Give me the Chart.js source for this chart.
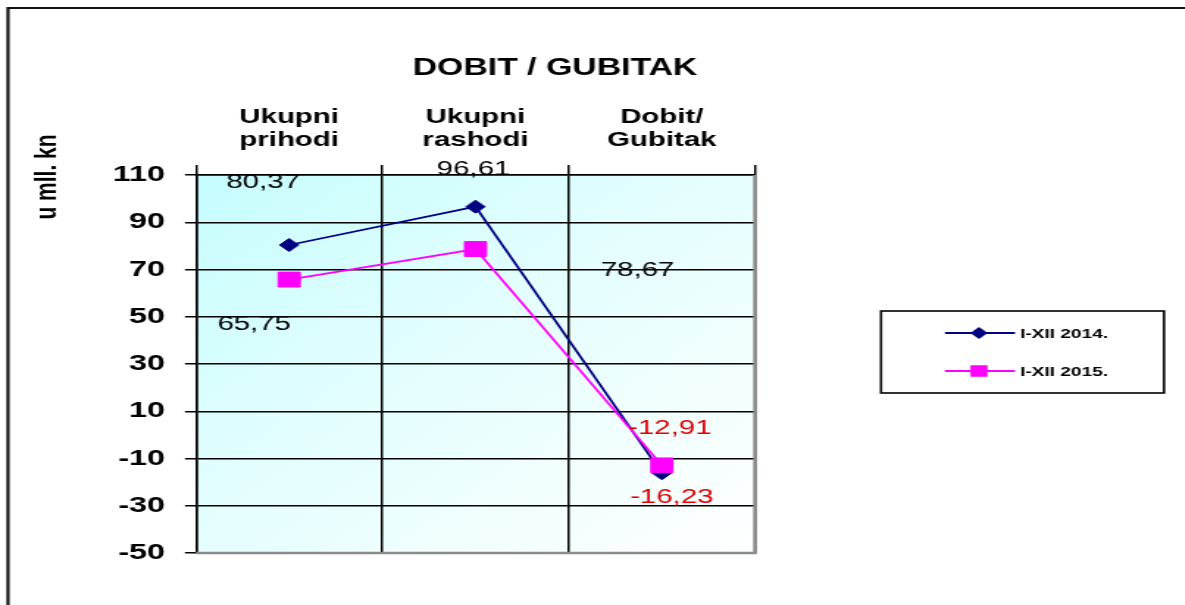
<!DOCTYPE html>
<html>
<head>
<meta charset="utf-8">
<script src="https://cdn.jsdelivr.net/npm/chart.js@4/dist/chart.umd.min.js"></script>
<style>
  body { margin: 0; background: #fff; overflow: hidden; }
  #wrap { transform-origin: 0 0; }
</style>
</head>
<body>
<div id="wrap"><canvas id="c"></canvas></div>
<script>
const categories = [["Ukupni", "prihodi"], ["Ukupni", "rashodi"], ["Dobit/", "Gubitak"]];
const series2014 = [80.37, 96.61, -16.23];
const series2015 = [65.75, 78.67, -12.91];
const seriesNames = ["I-XII 2014.", "I-XII 2015."];
const yTicks = { min: -50, max: 110, step: 20 };

// the original picture is stretched sideways, so draw narrow and scale the page
const S = 1.47;
const W = Math.round(1185 / S);
const H = 605;
const FONT = "'Liberation Sans', Arial, sans-serif";

const wrap = document.getElementById("wrap");
wrap.style.width = W + "px";
wrap.style.height = H + "px";
wrap.style.transform = "scaleX(" + S + ")";
const canvas = document.getElementById("c");
canvas.width = W;
canvas.height = H;

const plotLeft = 196 / S, plotRight = 755 / S, plotTop = 175, plotBottom = 553;

// where Excel put the value labels, relative to each point
const labelShift = [
  [[-26, -63], [-2, -37], [10, 24]],
  [[-35, 45], [162, 21], [8, -37]]
];

const fmt = v => v.toFixed(2).replace(".", ",");

const extras = {
  id: "extras",
  beforeDraw(chart) {
    const ctx = chart.ctx;
    const a = chart.chartArea;
    ctx.save();
    const g = ctx.createLinearGradient(a.left, a.top, a.right, a.bottom);
    g.addColorStop(0, "#c6fdfd");
    g.addColorStop(0.45, "#e4fefe");
    g.addColorStop(1, "#ffffff");
    ctx.fillStyle = g;
    ctx.fillRect(a.left, a.top, a.right - a.left, a.bottom - a.top);
    ctx.restore();
  },
  afterDatasetsDraw(chart) {
    const ctx = chart.ctx;
    const a = chart.chartArea;
    ctx.save();
    // grey right and bottom edges of the plot
    ctx.strokeStyle = "#8a8a8a";
    ctx.lineWidth = 2.5;
    ctx.beginPath();
    ctx.moveTo(a.right, a.top);
    ctx.lineTo(a.right, a.bottom);
    ctx.lineTo(a.left, a.bottom);
    ctx.stroke();

    // value labels
    ctx.font = "20px " + FONT;
    ctx.textAlign = "center";
    ctx.textBaseline = "middle";
    chart.data.datasets.forEach((ds, di) => {
      const meta = chart.getDatasetMeta(di);
      meta.data.forEach((pt, i) => {
        const v = ds.data[i];
        const sh = labelShift[ds.idx][i];
        ctx.fillStyle = v < 0 ? "#e00000" : "#000";
        ctx.fillText(fmt(v), pt.x + sh[0] / S, pt.y + sh[1]);
      });
    });

    // title
    ctx.fillStyle = "#000";
    ctx.font = "bold 23px " + FONT;
    ctx.fillText("DOBIT / GUBITAK", 555 / S, 69);

    // y axis title
    ctx.save();
    ctx.translate(48 / S, 177);
    ctx.rotate(-Math.PI / 2);
    ctx.font = "bold 21px " + FONT;
    ctx.fillText("u mll. kn", 0, 0);
    ctx.restore();

    // outer frame (left and top only visible)
    ctx.strokeStyle = "#111";
    ctx.lineWidth = 2.2;
    ctx.beginPath();
    ctx.moveTo(8 / S, H + 5);
    ctx.lineTo(8 / S, 8);
    ctx.lineTo(W + 5, 8);
    ctx.stroke();

    // legend
    const lx = 881 / S, ly = 311, lw = (1164 - 881) / S, lh = 82;
    ctx.lineWidth = 1.6;
    ctx.strokeStyle = "#000";
    ctx.strokeRect(lx, ly, lw, lh);
    const rows = [
      { name: seriesNames[0], color: "#000080", style: "rectRot", r: 4.5, y: 333 },
      { name: seriesNames[1], color: "#ff00ff", style: "rect", r: 6.8, y: 371 }
    ];
    rows.forEach(row => {
      ctx.strokeStyle = row.color;
      ctx.lineWidth = 2;
      ctx.beginPath();
      ctx.moveTo(945 / S, row.y);
      ctx.lineTo(1015 / S, row.y);
      ctx.stroke();
      ctx.fillStyle = row.color;
      Chart.helpers.drawPoint(ctx, { pointStyle: row.style, radius: row.r, rotation: 0, borderWidth: 1 }, 979 / S, row.y);
      ctx.fillStyle = "#000";
      ctx.font = "bold 13px " + FONT;
      ctx.textAlign = "left";
      ctx.fillText(row.name, 1020 / S, row.y + 1);
    });
    ctx.restore();
  }
};

new Chart(canvas, {
  type: "line",
  data: {
    labels: categories,
    datasets: [
      {
        idx: 0,
        label: seriesNames[0],
        data: series2014,
        order: 1,
        borderColor: "#000080",
        backgroundColor: "#000080",
        borderWidth: 1.8,
        pointStyle: "rectRot",
        pointRadius: 6.5,
        pointBorderWidth: 1,
        tension: 0
      },
      {
        idx: 1,
        label: seriesNames[1],
        data: series2015,
        order: 0,
        borderColor: "#ff00ff",
        backgroundColor: "#ff00ff",
        borderWidth: 1.8,
        pointStyle: "rect",
        pointRadius: 10.5,
        pointBorderWidth: 1,
        tension: 0
      }
    ]
  },
  options: {
    responsive: false,
    animation: false,
    layout: {
      padding: { left: 0, top: 0, right: W - plotRight, bottom: H - plotBottom }
    },
    plugins: {
      legend: { display: false },
      title: { display: false },
      tooltip: { enabled: false }
    },
    scales: {
      x: {
        position: "top",
        offset: true,
        afterFit: s => { s.height = plotTop; },
        grid: { offset: true, color: "#000", lineWidth: 1.5, tickLength: 10, drawTicks: true },
        border: { display: true, color: "#000", width: 1.5 },
        ticks: {
          color: "#000",
          padding: 13,
          maxRotation: 0,
          font: { family: FONT, size: 20, weight: "bold", lineHeight: 1.15 }
        }
      },
      y: {
        min: yTicks.min,
        max: yTicks.max,
        afterFit: s => { s.width = plotLeft; },
        grid: { color: "#000", lineWidth: 1.5, tickLength: 7.5, drawTicks: true },
        border: { display: true, color: "#000", width: 1.5 },
        ticks: {
          stepSize: yTicks.step,
          color: "#000",
          padding: 13.5,
          font: { family: FONT, size: 22, weight: "bold" }
        }
      }
    }
  },
  plugins: [extras]
});
</script>
</body>
</html>
